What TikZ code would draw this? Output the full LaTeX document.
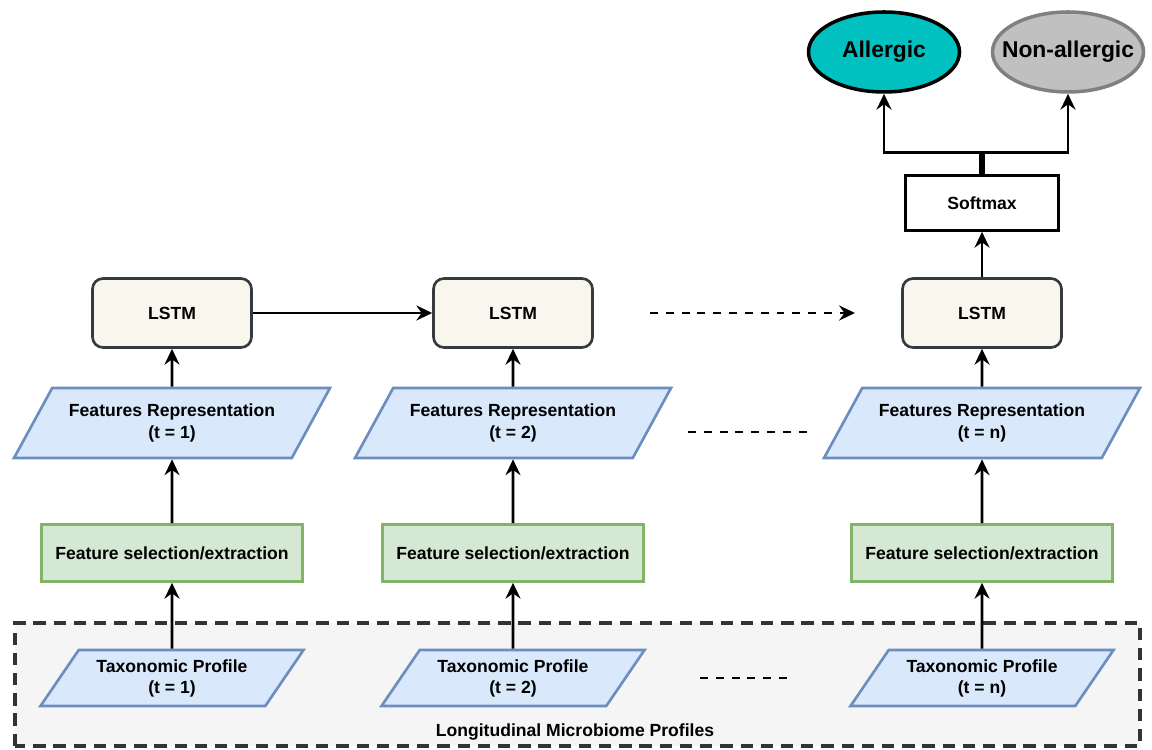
\documentclass[tikz,border=0pt]{standalone}
\usepackage{fontspec}
\setmainfont{Liberation Sans}
\usetikzlibrary{shapes.geometric,arrows.meta,positioning,calc}
\tikzset{>={Stealth[length=9pt,width=8.5pt,inset=3pt]}}
\definecolor{lstmFill}{HTML}{F9F7ED}
\definecolor{lstmLine}{HTML}{36393D}
\definecolor{blueFill}{HTML}{DAE8FC}
\definecolor{blueLine}{HTML}{6C8EBF}
\definecolor{greenFill}{HTML}{D5E8D4}
\definecolor{greenLine}{HTML}{82B366}
\definecolor{boxFill}{HTML}{F5F5F5}
\definecolor{boxLine}{HTML}{333333}
\definecolor{tealFill}{RGB}{0,192,192}
\definecolor{grayFill}{HTML}{C0C0C0}
\definecolor{grayLine}{HTML}{808080}
\tikzset{
  lstm/.style={draw=lstmLine, fill=lstmFill, rounded corners=6pt, line width=1.5pt,
    minimum width=3.18cm, minimum height=1.38cm, font=\bfseries},
  para/.style={trapezium, trapezium left angle=47, trapezium right angle=133,
    trapezium stretches body, draw=blueLine, fill=blueFill, line width=1.5pt,
    align=center, font=\bfseries, inner sep=1pt},
  featrep/.style={para, minimum width=6.32cm, minimum height=1.4cm},
  taxo/.style={para, minimum width=5.26cm, minimum height=1.12cm},
  selbox/.style={draw=greenLine, fill=greenFill, line width=1.5pt,
    minimum width=5.22cm, minimum height=1.14cm, font=\bfseries},
  outcome/.style={ellipse, line width=2pt, inner xsep=-0.27cm, minimum width=3.02cm,
    minimum height=1.6cm, font=\fontsize{13}{15}\selectfont\bfseries},
  arr/.style={->, line width=1.6pt},
  gapdash/.style={line width=1.6pt, dash pattern=on 4.5pt off 4.5pt}
}
\begin{document}
\begin{tikzpicture}
  \useasboundingbox (0,0) rectangle (23.04,14.98);
  % container of the input profiles
  \draw[boxLine, fill=boxFill, line width=2pt, dash pattern=on 7pt off 4.5pt]
    (0.3,0.06) rectangle (22.8,2.52);
  \node[font=\bfseries] (lmp) at (11.5,0.34) {Longitudinal Microbiome Profiles};

  % outputs
  \node[outcome, draw=black, fill=tealFill] (al) at (17.68,13.94) {Allergic};
  \node[outcome, draw=grayLine, fill=grayFill] (nal) at (21.36,13.94) {Non-allergic};
  \node[draw, line width=1.5pt, minimum width=3.06cm, minimum height=1.1cm,
    font=\bfseries] (sm) at (19.64,10.92) {Softmax};

  % LSTM cells
  \node[lstm] (l1) at (3.44,8.72) {LSTM};
  \node[lstm] (l2) at (10.26,8.72) {LSTM};
  \node[lstm] (l3) at (19.64,8.72) {LSTM};

  % feature representations
  \node[featrep] (fr1) at (3.44,6.52) {Features Representation\\(t = 1)};
  \node[featrep] (fr2) at (10.26,6.52) {Features Representation\\(t = 2)};
  \node[featrep] (fr3) at (19.64,6.52) {Features Representation\\(t = n)};

  % feature selection
  \node[selbox] (fs1) at (3.44,3.92) {Feature selection/extraction};
  \node[selbox] (fs2) at (10.26,3.92) {Feature selection/extraction};
  \node[selbox] (fs3) at (19.64,3.92) {Feature selection/extraction};

  % taxonomic profiles
  \node[taxo] (tp1) at (3.44,1.42) {Taxonomic Profile\\(t = 1)};
  \node[taxo] (tp2) at (10.26,1.42) {Taxonomic Profile\\(t = 2)};
  \node[taxo] (tp3) at (19.64,1.42) {Taxonomic Profile\\(t = n)};

  % vertical flow
  \draw[arr] (tp1.north) -- (fs1.south);
  \draw[arr] (tp2.north) -- (fs2.south);
  \draw[arr] (tp3.north) -- (fs3.south);
  \draw[arr] (fs1.north) -- (fr1.south);
  \draw[arr] (fs2.north) -- (fr2.south);
  \draw[arr] (fs3.north) -- (fr3.south);
  \draw[arr] (fr1.north) -- (l1.south);
  \draw[arr] (fr2.north) -- (l2.south);
  \draw[arr] (fr3.north) -- (l3.south);
  \draw[arr] (l3.north) -- (sm.south);

  % recurrence
  \draw[arr] (l1.east) -- (l2.west);
  \coordinate (dA) at (13.0,8.72);
  \coordinate (dB) at (17.1,8.72);
  \draw[arr, dash pattern=on 4.5pt off 4.5pt] (dA) -- (dB);

  % skipped steps
  \coordinate (fA) at (13.76,6.34);
  \coordinate (fB) at (16.16,6.34);
  \draw[gapdash] (fA) -- (fB);
  \coordinate (tA) at (14.0,1.42);
  \coordinate (tB) at (15.82,1.42);
  \draw[gapdash] (tA) -- (tB);

  % softmax to classes
  \coordinate (split) at ($(sm.north)+(0,0.44)$);
  \draw[line width=3pt] (sm.north) -- (split);
  \draw[arr] (split) -| (al.south);
  \draw[arr] (split) -| (nal.south);
\end{tikzpicture}
\end{document}
